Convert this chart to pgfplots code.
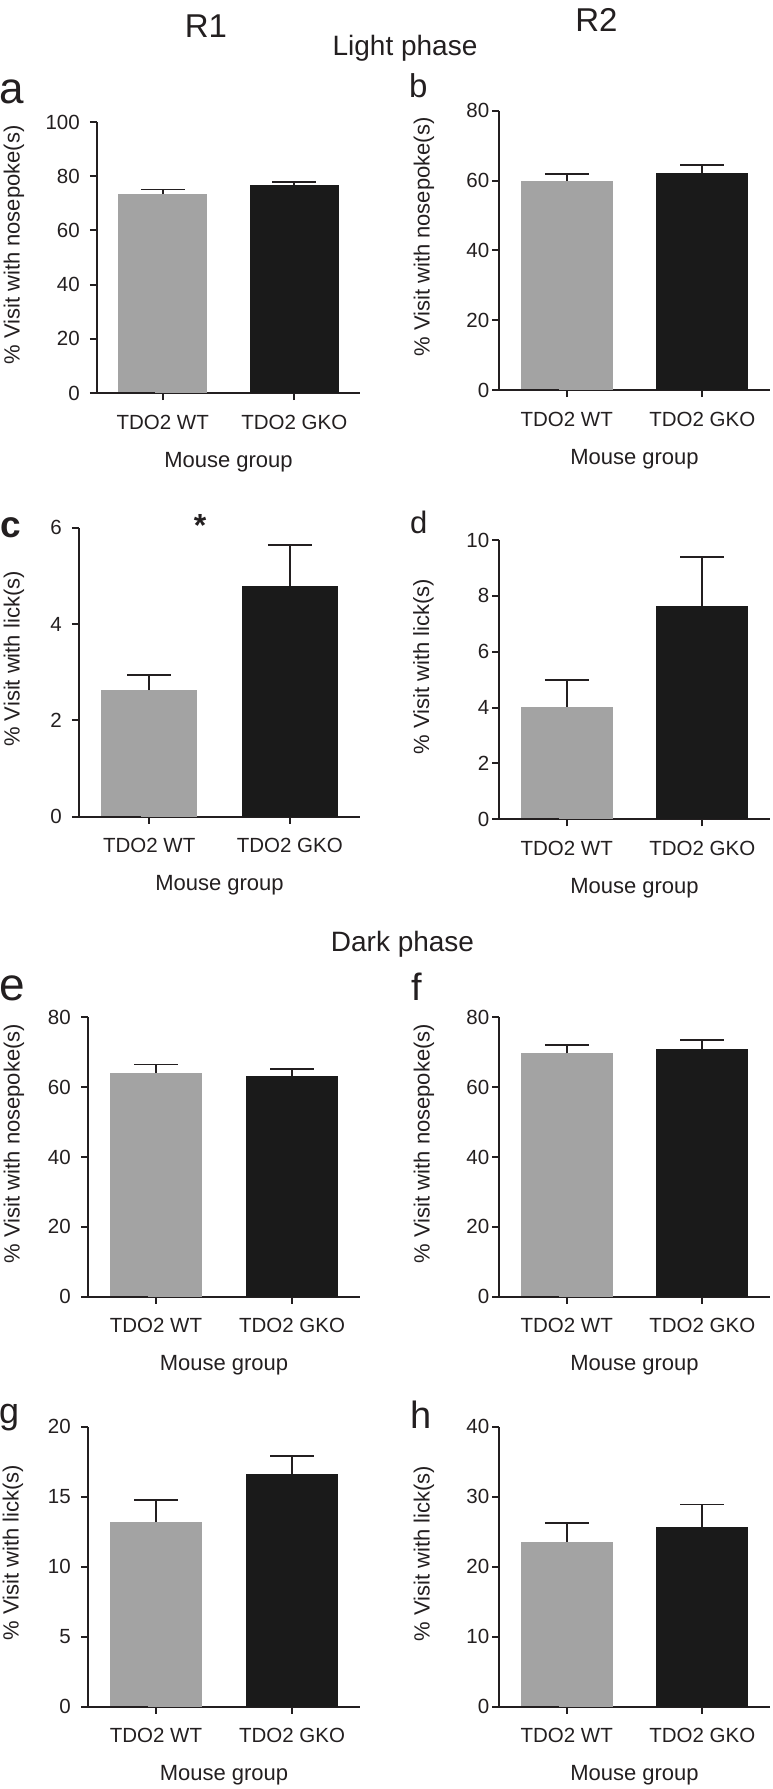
\documentclass[border=0pt]{standalone}
\usepackage{pgfplots}
\pgfplotsset{compat=1.18}
\usepackage{fontspec}
\setmainfont{Liberation Sans}
\definecolor{ink}{HTML}{231F20}
\definecolor{wt}{HTML}{A3A3A3}
\definecolor{gko}{HTML}{1A1A1A}
\pgfplotsset{
  panel/.style={
    scale only axis, anchor=south west, clip=false,
    xmin=-0.5, xmax=1.5, ymin=0,
    axis x line*=bottom, axis y line*=left,
    axis line style={-, line width=2pt, color=ink},
    xtick={0,1}, xticklabels={TDO2 WT, TDO2 GKO},
    tick align=outside, major tick length=7pt,
    every tick/.style={line width=2pt, color=ink},
    tick label style={font=\fontsize{20.5}{24}\selectfont, text=ink, /pgf/number format/assume math mode=true},
    xticklabel style={anchor=north, inner sep=0pt},
    yticklabel style={anchor=east, inner sep=0pt},
    xticklabel shift=14.5pt,
    yticklabel shift=10pt,
    xlabel={Mouse group},
    every axis x label/.style={at={(axis description cs:0.5,0)}, anchor=base, yshift=-74pt, font=\fontsize{22}{26}\selectfont, text=ink},
    ybar, bar width=0.68, bar shift=0pt,
  },
  rightcol/.style={yticklabel shift=2.5pt},
  eb/.style={error bars/.cd, y dir=plus, y explicit,
    error bar style={line width=1.8pt, color=ink},
    error mark options={rotate=90, line width=1.8pt, color=ink, mark size=22pt}},
  wtbar/.style={fill=wt, draw=none, eb},
  gkobar/.style={fill=gko, draw=none, eb},
}
\newcommand\stub{\draw[ink, line width=2pt] (axis cs:-0.5,0) -- ++(-8pt,0);}
\begin{document}
\begin{tikzpicture}
\path[use as bounding box] (0,0) rectangle (772pt,-1789pt);
% headers
\node[anchor=base, inner sep=0pt, text=ink, font=\fontsize{33}{38}\selectfont] at (206pt,-37pt) {R1};
\node[anchor=base, inner sep=0pt, text=ink, font=\fontsize{33}{38}\selectfont] at (596.5pt,-31pt) {R2};
\node[anchor=base, inner sep=0pt, text=ink, font=\fontsize{28}{32}\selectfont] at (405pt,-55pt) {Light phase};
\node[anchor=base, inner sep=0pt, text=ink, font=\fontsize{28}{32}\selectfont] at (402.5pt,-951pt) {Dark phase};
% panel letters
\node[anchor=base west, inner sep=0pt, text=ink, font=\fontsize{44}{50}\selectfont] at (-1pt,-103pt) {a};
\node[anchor=base west, inner sep=0pt, text=ink, font=\fontsize{33}{38}\selectfont] at (409pt,-97pt) {b};
\node[anchor=base west, inner sep=0pt, text=ink, font=\fontsize{37}{42}\selectfont\bfseries] at (0pt,-537pt) {c};
\node[anchor=base west, inner sep=0pt, text=ink, font=\fontsize{31}{36}\selectfont] at (410pt,-533pt) {d};
\node[anchor=base west, inner sep=0pt, text=ink, font=\fontsize{46}{52}\selectfont] at (-1pt,-1000pt) {e};
\node[anchor=base west, inner sep=0pt, text=ink, font=\fontsize{38}{44}\selectfont] at (411pt,-1000pt) {f};
\node[anchor=base west, inner sep=0pt, text=ink, font=\fontsize{36}{42}\selectfont] at (-1pt,-1423pt) {g};
\node[anchor=base west, inner sep=0pt, text=ink, font=\fontsize{38}{44}\selectfont] at (410pt,-1428pt) {h};
% y labels
\begin{scope}[every node/.style={rotate=90, text=ink, font=\fontsize{22}{26}\selectfont}]
\node at (14pt,-245pt) {\% Visit with nosepoke(s)};
\node at (424pt,-237pt) {\% Visit with nosepoke(s)};
\node at (14pt,-659pt) {\% Visit with lick(s)};
\node at (423.5pt,-666.5pt) {\% Visit with lick(s)};
\node at (14pt,-1143.5pt) {\% Visit with nosepoke(s)};
\node at (424pt,-1143.5pt) {\% Visit with nosepoke(s)};
\node at (13pt,-1552.5pt) {\% Visit with lick(s)};
\node at (424pt,-1553.5pt) {\% Visit with lick(s)};
\end{scope}
% asterisk
\node[anchor=base, inner sep=0pt, text=ink, font=\fontsize{32}{36}\selectfont\bfseries] at (200pt,-536pt) {*};

% a
\begin{axis}[panel, at={(97pt,-393pt)}, width=263pt, height=271pt, ymax=100, ytick distance=20]
\addplot[wtbar] coordinates {(0,73.4) +- (0,1.7)};
\addplot[gkobar] coordinates {(1,76.8) +- (0,1.1)};
\stub
\end{axis}
% b
\begin{axis}[panel, rightcol, at={(499pt,-390pt)}, width=271pt, height=279.3pt, ymax=80, ytick distance=20]
\addplot[wtbar] coordinates {(0,59.9) +- (0,1.9)};
\addplot[gkobar] coordinates {(1,62.2) +- (0,2.3)};
\stub
\end{axis}
% c
\begin{axis}[panel, at={(79pt,-816.7pt)}, width=281pt, height=289pt, ymax=6, ytick distance=2]
\addplot[wtbar] coordinates {(0,2.63) +- (0,0.31)};
\addplot[gkobar] coordinates {(1,4.80) +- (0,0.84)};
\stub
\end{axis}
% d
\begin{axis}[panel, rightcol, at={(499pt,-819.3pt)}, width=271pt, height=279.3pt, ymax=10, ytick distance=2]
\addplot[wtbar] coordinates {(0,4.03) +- (0,0.96)};
\addplot[gkobar] coordinates {(1,7.65) +- (0,1.75)};
\stub
\end{axis}
% e
\begin{axis}[panel, at={(88pt,-1296.7pt)}, width=272pt, height=279.4pt, ymax=80, ytick distance=20]
\addplot[wtbar] coordinates {(0,64.1) +- (0,2.4)};
\addplot[gkobar] coordinates {(1,63.3) +- (0,1.9)};
\stub
\end{axis}
% f
\begin{axis}[panel, rightcol, at={(499pt,-1296.7pt)}, width=271pt, height=279.4pt, ymax=80, ytick distance=20]
\addplot[wtbar] coordinates {(0,69.7) +- (0,2.3)};
\addplot[gkobar] coordinates {(1,71.0) +- (0,2.5)};
\stub
\end{axis}
% g
\begin{axis}[panel, at={(88pt,-1706.7pt)}, width=272pt, height=280pt, ymax=20, ytick distance=5]
\addplot[wtbar] coordinates {(0,13.2) +- (0,1.56)};
\addplot[gkobar] coordinates {(1,16.6) +- (0,1.3)};
\stub
\end{axis}
% h
\begin{axis}[panel, rightcol, at={(499pt,-1706.7pt)}, width=271pt, height=280pt, ymax=40, ytick distance=10]
\addplot[wtbar] coordinates {(0,23.6) +- (0,2.6)};
\addplot[gkobar] coordinates {(1,25.7) +- (0,3.2)};
\stub
\end{axis}
\end{tikzpicture}
\end{document}
